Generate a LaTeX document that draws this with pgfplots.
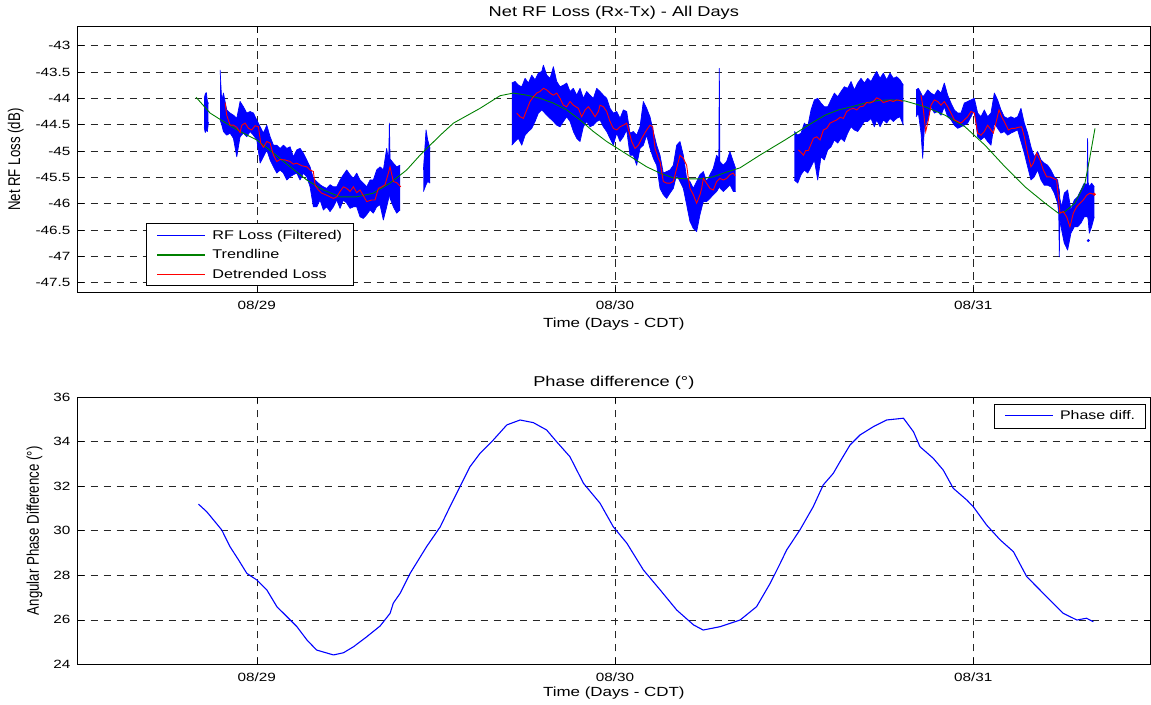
\documentclass[border=0pt]{standalone}
\usepackage{graphicx}
\usepackage{fontspec}
\setmainfont{Liberation Sans}[FakeStretch=1.28]
\newfontfamily\ylabfont{Liberation Sans}
\usepackage{pgfplots}
\usepackage{pgfplotstable}
\usepgfplotslibrary{fillbetween}
\pgfplotsset{compat=1.18}
\definecolor{mblue}{rgb}{0,0,1}
\definecolor{mgreen}{rgb}{0,0.5,0}
\definecolor{mred}{rgb}{1,0,0}
\newcommand{\legline}[1]{\tikz[baseline=0pt]\fill[fill=#1] (0bp,0.3em-0.7pt) rectangle (48bp,0.3em+0.7pt);}
\pgfplotsset{
  mstyle/.style={
    scale only axis, width=1072.3bp,
    xmin=28.5, xmax=31.4931,
    xtick={29,30,31}, xticklabels={08/29,08/30,08/31},
    grid=major,
    major grid style={black!85, line width=0.6pt, dash pattern=on 7.5bp off 5.5bp},
    tick align=inside, major tick length=6bp,
    tick style={black, line width=0.6pt},
    axis line style={black, line width=0.8pt},
    ticklabel style={font=\fontsize{12}{14}\selectfont},
    yticklabel style={inner sep=0pt, xshift=-7bp},
    xticklabel style={inner sep=0pt, yshift=-8bp},
    title style={at={(axis description cs:0.5,1)}, anchor=base, font=\fontsize{14.3}{16}\selectfont},
    xlabel style={at={(axis description cs:0.5,0)}, anchor=base, font=\fontsize{13.3}{15}\selectfont},
    ylabel style={anchor=base, font=\ylabfont\fontsize{13.3}{15}\selectfont},
  },
  bedge/.style={draw=mblue, line width=0.7pt, line join=round, forget plot},
  bfill/.style={fill=mblue, draw=none, forget plot},
}
% RF loss (filtered): x = day of August, top/bottom of the noise band (dB)
\pgfplotstableread{
x top bot
28.853 -44.00 -44.55
28.856 -43.92 -44.65
28.859 -43.89 -44.60
28.862 -44.05 -44.63
28.865 -44.10 -44.45
}\segA
\pgfplotstableread{
x top bot
28.8975 -43.46 -44.41
28.9020 -44.05 -44.50
28.9068 -43.90 -44.63
28.916 -44.22 -44.70
28.9254 -44.28 -44.66
28.9347 -44.32 -44.76
28.944 -44.38 -45.11
28.9533 -44.06 -44.73
28.9626 -44.16 -44.66
28.972 -44.28 -44.73
28.9812 -44.25 -44.63
28.9905 -44.28 -44.70
28.9999 -44.41 -44.79
29.0092 -44.54 -45.23
29.0185 -44.66 -45.11
29.0278 -44.51 -44.98
29.0371 -44.73 -45.17
29.0464 -44.89 -45.30
29.0557 -44.89 -45.42
29.065 -44.95 -45.36
29.0743 -44.89 -45.42
29.0836 -44.95 -45.55
29.0929 -44.92 -45.49
29.1021 -45.11 -45.45
29.1114 -44.98 -45.42
29.1207 -44.95 -45.55
29.13 -45.04 -45.42
29.1393 -45.17 -45.49
29.1486 -45.30 -45.68
29.1579 -45.52 -46.06
29.1672 -45.58 -46.06
29.1765 -45.64 -45.93
29.1858 -45.68 -46.12
29.1951 -45.71 -46.06
29.2044 -45.64 -46.15
29.2137 -45.68 -46.06
29.223 -45.68 -45.93
29.2323 -45.55 -46.09
29.2416 -45.45 -45.93
29.2509 -45.36 -45.99
29.2602 -45.45 -46.09
29.2695 -45.52 -46.06
29.2788 -45.42 -46.06
29.2881 -45.55 -46.25
29.2974 -45.61 -46.28
29.3067 -45.68 -46.21
29.316 -45.55 -46.12
29.3253 -45.55 -46.18
29.3346 -45.36 -46.06
29.3439 -45.30 -46.02
29.3532 -45.36 -46.31
29.3625 -44.95 -46.06
29.3680 -45.20 -45.90
29.3700 -44.47 -45.80
29.3720 -45.15 -45.90
29.3811 -45.23 -46.06
29.3904 -45.30 -46.18
29.3997 -45.27 -46.12
}\segB
\pgfplotstableread{
x top bot
29.465 -45.36 -45.77
29.4724 -44.60 -45.64
29.477 -44.79 -45.58
29.4836 -44.95 -45.61
}\segC
\pgfplotstableread{
x top bot
29.7116 -43.71 -44.89
29.7209 -43.68 -44.82
29.7302 -43.75 -44.76
29.7395 -43.78 -44.89
29.7488 -43.62 -44.70
29.7581 -43.71 -44.63
29.7674 -43.56 -44.57
29.7767 -43.65 -44.44
29.786 -43.52 -44.28
29.7953 -43.49 -44.22
29.7999 -43.37 -44.25
29.8092 -43.56 -44.32
29.8185 -43.62 -44.38
29.8278 -43.40 -44.44
29.8371 -43.68 -44.51
29.8464 -43.78 -44.54
29.8557 -43.75 -44.44
29.865 -43.71 -44.35
29.8743 -43.87 -44.44
29.8836 -43.81 -44.63
29.8929 -43.94 -44.76
29.9022 -43.81 -44.82
29.9115 -44.00 -44.54
29.9208 -43.87 -44.44
29.9301 -43.94 -44.54
29.9394 -44.00 -44.51
29.9487 -43.81 -44.44
29.958 -43.87 -44.41
29.9673 -43.94 -44.54
29.9766 -44.00 -44.63
29.9859 -44.19 -44.76
29.9952 -44.28 -44.89
30.0045 -44.25 -44.66
30.0138 -44.38 -44.82
30.0231 -44.22 -44.73
30.0324 -44.25 -44.60
30.0417 -44.66 -45.08
30.051 -44.63 -45.08
30.0603 -44.70 -45.27
30.0696 -44.54 -44.95
30.0789 -44.06 -44.89
30.0882 -44.19 -44.70
30.0975 -44.35 -44.95
30.1068 -44.63 -45.14
30.1161 -44.89 -45.27
30.1254 -45.08 -45.71
30.1347 -45.42 -45.83
30.144 -45.39 -45.90
30.1533 -45.36 -45.80
30.1626 -45.27 -45.71
30.1719 -44.89 -45.45
30.1812 -44.82 -45.58
30.1905 -45.08 -45.71
30.1998 -45.52 -46.02
30.2091 -45.58 -46.34
30.2184 -45.71 -46.47
30.2277 -45.58 -46.53
30.237 -45.45 -46.21
30.2463 -45.39 -45.96
30.2556 -45.58 -45.96
30.2649 -45.45 -45.90
30.2742 -45.33 -45.83
30.2835 -45.08 -45.77
30.2895 -45.15 -45.70
30.2910 -43.43 -45.58
30.2925 -45.20 -45.70
30.3021 -45.27 -45.77
30.3114 -45.20 -45.71
30.3207 -45.01 -45.64
30.33 -45.20 -45.77
30.3365 -45.33 -45.77
}\segD
\pgfplotstableread{
x top bot
30.5005 -44.63 -45.55
30.5098 -44.70 -45.61
30.5191 -44.66 -45.45
30.5284 -44.47 -45.36
30.5377 -44.54 -45.42
30.547 -44.22 -45.30
30.5563 -44.03 -45.17
30.5656 -44.00 -45.55
30.5749 -44.09 -45.11
30.5842 -44.16 -45.17
30.5935 -44.16 -44.98
30.6028 -44.03 -44.92
30.6121 -43.90 -44.79
30.6214 -43.97 -44.85
30.6307 -43.87 -44.76
30.64 -43.78 -44.82
30.6493 -43.81 -44.66
30.6586 -43.68 -44.54
30.6679 -43.84 -44.60
30.6772 -43.71 -44.63
30.6865 -43.62 -44.54
30.6958 -43.71 -44.44
30.7051 -43.62 -44.44
30.7144 -43.68 -44.38
30.7237 -43.56 -44.54
30.7303 -43.49 -44.41
30.7396 -43.62 -44.54
30.7489 -43.52 -44.41
30.7582 -43.65 -44.47
30.7675 -43.52 -44.38
30.7768 -43.62 -44.44
30.7861 -43.59 -44.38
30.7954 -43.65 -44.35
30.8047 -43.75 -44.51
}\segE
\pgfplotstableread{
x top bot
30.8401 -43.84 -44.35
30.8466 -43.81 -44.28
30.854 -43.90 -44.66
30.8587 -43.97 -45.14
30.8633 -43.94 -44.57
30.8726 -43.84 -44.41
30.8819 -43.90 -44.16
30.8912 -43.94 -44.28
30.9005 -43.84 -44.25
30.9098 -43.90 -44.32
30.9191 -43.71 -44.16
30.9284 -43.94 -44.35
30.9377 -44.09 -44.41
30.947 -44.22 -44.51
30.9563 -44.28 -44.57
30.9656 -44.28 -44.54
30.9749 -44.09 -44.51
30.9842 -44.06 -44.47
30.9935 -44.03 -44.35
31.0028 -44.00 -44.22
31.0121 -44.28 -44.73
31.0214 -44.35 -44.79
31.0307 -44.22 -44.73
31.04 -44.35 -44.82
31.0493 -44.28 -44.89
31.0586 -43.90 -44.47
31.0679 -44.03 -44.57
31.0772 -44.22 -44.66
31.0865 -44.35 -44.63
31.0958 -44.38 -44.70
31.1051 -44.35 -44.66
31.1144 -44.38 -44.63
31.1237 -44.35 -44.60
31.133 -44.19 -44.82
31.1423 -44.47 -45.04
31.1516 -44.66 -45.30
31.1609 -44.92 -45.55
31.1702 -45.11 -45.49
31.1795 -45.01 -45.36
31.1888 -45.17 -45.55
31.1981 -45.23 -45.65
31.2074 -45.27 -45.65
31.2167 -45.36 -45.68
31.226 -45.49 -45.80
31.2353 -45.55 -45.99
31.2385 -45.70 -46.20
31.2400 -45.74 -47.01
31.2415 -45.90 -46.30
31.2465 -46.06 -46.50
31.2539 -45.80 -46.75
31.2632 -45.74 -46.88
31.2725 -46.12 -46.56
31.2818 -45.93 -46.44
31.2911 -45.87 -46.44
31.3004 -45.74 -46.37
31.3097 -45.61 -46.25
31.3175 -45.65 -46.25
31.3190 -44.76 -46.25
31.3205 -45.60 -46.30
31.3237 -45.68 -46.56
31.3302 -45.61 -46.44
31.3376 -45.68 -46.25
}\segF
\begin{document}
\begin{tikzpicture}
\begin{axis}[mstyle, at={(77.7bp,412.3bp)}, anchor=south west, height=266bp,
  ymin=-47.69, ymax=-42.64,
  ytick={-47.5,-47,-46.5,-46,-45.5,-45,-44.5,-44,-43.5,-43},
  yticklabels={-47.5,-47,-46.5,-46,-45.5,-45,-44.5,-44,-43.5,-43},
  title={Net RF Loss (Rx-Tx) - All Days}, title style={yshift=4bp},
  xlabel={Time (Days - CDT)}, xlabel style={yshift=-35bp},
  ylabel={\scalebox{1}[1.28]{Net RF Loss (dB)}},
  ylabel style={at={(axis description cs:-0.0538,0.5)}},
]
% RF loss band segments
\addplot[bedge, name path=tA] table[x=x, y=top] {\segA};
\addplot[bedge, name path=bA] table[x=x, y=bot] {\segA};
\addplot[bfill] fill between[of=tA and bA];
\addplot[bedge, name path=tB] table[x=x, y=top] {\segB};
\addplot[bedge, name path=bB] table[x=x, y=bot] {\segB};
\addplot[bfill] fill between[of=tB and bB];
\addplot[bedge, name path=tC] table[x=x, y=top] {\segC};
\addplot[bedge, name path=bC] table[x=x, y=bot] {\segC};
\addplot[bfill] fill between[of=tC and bC];
\addplot[bedge, name path=tD] table[x=x, y=top] {\segD};
\addplot[bedge, name path=bD] table[x=x, y=bot] {\segD};
\addplot[bfill] fill between[of=tD and bD];
\addplot[bedge, name path=tE] table[x=x, y=top] {\segE};
\addplot[bedge, name path=bE] table[x=x, y=bot] {\segE};
\addplot[bfill] fill between[of=tE and bE];
\addplot[bedge, name path=tF] table[x=x, y=top] {\segF};
\addplot[bedge, name path=bF] table[x=x, y=bot] {\segF};
\addplot[bfill] fill between[of=tF and bF];
\addplot[only marks, mark=*, mark size=1.3bp, draw=mblue, fill=mblue, forget plot] coordinates {(31.3209,-46.70)};
% Trendline
\addplot[draw=mgreen, line width=0.9pt, forget plot] coordinates {
(28.8305,-43.98) (28.8696,-44.28) (28.9068,-44.44) (28.9533,-44.63) (28.9999,-44.79) (29.0464,-45.04)
(29.0929,-45.30) (29.1393,-45.55) (29.1858,-45.74) (29.2323,-45.87) (29.2788,-45.87) (29.3253,-45.80)
(29.3718,-45.61) (29.4183,-45.36) (29.4555,-45.08) (29.512,-44.70) (29.549,-44.47) (29.623,-44.19)
(29.679,-43.95) (29.7162,-43.90) (29.7534,-43.94) (29.7906,-44.00) (29.8278,-44.09) (29.865,-44.22)
(29.9022,-44.41) (29.9394,-44.63) (29.9766,-44.82) (30.0138,-44.98) (30.051,-45.14) (30.0882,-45.30)
(30.1254,-45.42) (30.1626,-45.51) (30.1998,-45.53) (30.237,-45.53) (30.2742,-45.49) (30.3114,-45.40)
(30.3486,-45.32) (30.405,-45.075) (30.4745,-44.79) (30.5117,-44.63) (30.5489,-44.47) (30.5861,-44.32)
(30.6233,-44.22) (30.6605,-44.16) (30.6977,-44.09) (30.7349,-44.04) (30.7721,-44.03) (30.8093,-44.05)
(30.8652,-44.16) (30.921,-44.32) (30.9768,-44.54) (31.0326,-44.89) (31.0884,-45.30) (31.1442,-45.68)
(31.2,-45.99) (31.2372,-46.18) (31.2558,-46.15) (31.2837,-45.99) (31.3116,-45.61) (31.3256,-45.11)
(31.3396,-44.57)
};
% Detrended loss
\addplot[draw=mred, line width=0.9pt, forget plot] coordinates {
(28.9115,-44.08) (28.916,-44.32) (28.9254,-44.51) (28.9347,-44.51) (28.944,-44.55) (28.9533,-44.65)
(28.958,-44.51) (28.9673,-44.47) (28.9766,-44.57) (28.9859,-44.60) (28.9952,-44.52) (29.0045,-44.54)
(29.011,-44.85) (29.0185,-44.93) (29.0278,-44.82) (29.0371,-44.85) (29.0464,-45.08) (29.0557,-45.20)
(29.065,-45.16) (29.079,-45.17) (29.0929,-45.20) (29.1021,-45.25) (29.1114,-45.23) (29.1254,-45.28)
(29.1393,-45.30) (29.1486,-45.36) (29.1579,-45.39) (29.1626,-45.65) (29.1719,-45.74) (29.1812,-45.80)
(29.1951,-45.84) (29.2044,-45.87) (29.2137,-45.90) (29.223,-45.87) (29.2323,-45.77) (29.2416,-45.68)
(29.2509,-45.71) (29.2602,-45.77) (29.2695,-45.68) (29.2788,-45.79) (29.2881,-45.74) (29.3067,-45.96)
(29.3207,-45.93) (29.33,-45.93) (29.3393,-45.71) (29.3486,-45.68) (29.3579,-45.64) (29.3672,-45.42)
(29.3718,-45.30) (29.3811,-45.58) (29.3904,-45.60) (29.4016,-45.68)
};
\addplot[draw=mred, line width=0.9pt, forget plot] coordinates {
(29.7255,-44.28) (29.7348,-44.35) (29.7441,-44.38) (29.7534,-44.22) (29.7627,-44.06) (29.772,-43.97)
(29.7813,-43.90) (29.7906,-43.87) (29.7999,-43.81) (29.8092,-43.84) (29.8185,-43.90) (29.8278,-43.94)
(29.8371,-43.90) (29.8464,-44.00) (29.8557,-44.13) (29.865,-44.16) (29.8743,-44.06) (29.8836,-44.13)
(29.8976,-44.19) (29.9069,-44.35) (29.9162,-44.22) (29.9255,-44.16) (29.9348,-44.25) (29.9441,-44.35)
(29.9534,-44.25) (29.958,-44.13) (29.9673,-44.16) (29.9766,-44.25) (29.9859,-44.44) (29.9952,-44.57)
(30.0045,-44.60) (30.0138,-44.54) (30.0231,-44.51) (30.0324,-44.47) (30.0464,-44.82) (30.0557,-44.95)
(30.065,-44.89) (30.0743,-44.76) (30.0882,-44.60) (30.0975,-44.51) (30.105,-44.54) (30.1115,-44.95)
(30.1208,-45.14) (30.1254,-45.20) (30.1347,-45.58) (30.144,-45.61) (30.1533,-45.61) (30.1626,-45.58)
(30.1812,-45.08) (30.1905,-45.14) (30.1998,-45.27) (30.2045,-45.52) (30.2091,-45.71) (30.2184,-45.83)
(30.2277,-45.99) (30.237,-45.83) (30.2417,-45.71) (30.2463,-45.52) (30.2649,-45.71) (30.2742,-45.74)
(30.2835,-45.58) (30.2928,-45.52) (30.3021,-45.55) (30.3114,-45.52) (30.3207,-45.45) (30.33,-45.42)
(30.3347,-45.47)
};
\addplot[draw=mred, line width=0.9pt, forget plot] coordinates {
(30.5117,-44.98) (30.521,-45.04) (30.5257,-45.08) (30.5322,-44.99) (30.5396,-44.99) (30.5536,-44.76)
(30.5629,-44.73) (30.5722,-44.79) (30.5815,-44.60) (30.5908,-44.57) (30.6001,-44.47) (30.6094,-44.44)
(30.6187,-44.41) (30.628,-44.36) (30.6373,-44.38) (30.6466,-44.25) (30.6559,-44.21) (30.6652,-44.19)
(30.6745,-44.22) (30.6838,-44.16) (30.6931,-44.15) (30.7024,-44.08) (30.7117,-44.09) (30.721,-44.06)
(30.7303,-43.99) (30.7396,-44.02) (30.7489,-44.08) (30.7582,-44.06) (30.7675,-44.04) (30.7768,-44.06)
(30.7861,-44.03) (30.7954,-44.04) (30.802,-44.06)
};
\addplot[draw=mred, line width=0.9pt, forget plot] coordinates {
(30.854,-43.94) (30.8606,-44.22) (30.8671,-44.63) (30.8745,-44.41) (30.8819,-44.13) (30.8912,-44.03)
(30.9005,-44.06) (30.9098,-44.13) (30.9191,-44.06) (30.9284,-44.16) (30.9377,-44.28) (30.947,-44.41)
(30.9563,-44.44) (30.9656,-44.47) (30.9749,-44.41) (30.9842,-44.35) (30.9935,-44.25) (31.0028,-44.28)
(31.0121,-44.66) (31.0214,-44.70) (31.0307,-44.63) (31.04,-44.51) (31.0493,-44.60) (31.0558,-44.66)
(31.0651,-44.41) (31.0717,-44.22) (31.0791,-44.35) (31.0884,-44.47) (31.0977,-44.60) (31.107,-44.57)
(31.1163,-44.57) (31.1256,-44.55) (31.1349,-44.54) (31.1423,-44.73) (31.1516,-45.04) (31.1609,-45.30)
(31.1675,-45.23) (31.1768,-45.04) (31.1861,-45.17) (31.1954,-45.36) (31.2047,-45.49) (31.214,-45.49)
(31.2233,-45.52) (31.2326,-45.55) (31.2372,-45.87) (31.2419,-46.18) (31.2512,-46.15) (31.2605,-46.25)
(31.2698,-46.44) (31.2791,-46.18) (31.2884,-46.06) (31.2977,-45.99) (31.307,-45.93) (31.3163,-45.84)
(31.3256,-45.80) (31.3349,-45.82)
};
\addplot[only marks, mark=*, mark size=1.3bp, draw=mred, fill=mred, forget plot] coordinates {(31.3376,-45.82)};
% legend
\node[anchor=south west, draw=black, line width=0.8pt, fill=white, inner xsep=11bp, inner ysep=1.75bp,
  font=\fontsize{12.7}{19.5}\selectfont] at (axis description cs:0.0637,0.025) {%
  \begin{tabular}{@{}l@{\hspace{7bp}}l@{}}
  \legline{mblue} & RF Loss (Filtered)\\
  \legline{mgreen} & Trendline\\
  \legline{mred} & Detrended Loss
  \end{tabular}};
\end{axis}

\begin{axis}[mstyle, at={(77.7bp,40.7bp)}, anchor=south west, height=267bp,
  ymin=24, ymax=36,
  ytick={24,26,28,30,32,34,36},
  yticklabels={24,26,28,30,32,34,36},
  title={Phase difference (°)}, title style={yshift=5bp},
  xlabel={Time (Days - CDT)}, xlabel style={yshift=-32bp},
  ylabel={\scalebox{1}[1.28]{Angular Phase Difference (°)}},
  ylabel style={at={(axis description cs:-0.0361,0.5)}},
]
\addplot[draw=mblue, line width=1.1pt, line join=round, forget plot] coordinates {
(28.837,31.20) (28.860,30.86) (28.879,30.49) (28.902,30.04) (28.925,29.29) (28.949,28.69)
(28.972,28.09) (29.0,27.79) (29.028,27.34) (29.056,26.59) (29.084,26.14) (29.112,25.69)
(29.14,25.09) (29.167,24.64) (29.214,24.42) (29.242,24.52) (29.27,24.79) (29.307,25.24)
(29.344,25.72) (29.372,26.29) (29.381,26.75) (29.40,27.19) (29.428,28.09) (29.474,29.29)
(29.512,30.18) (29.539,31.08) (29.567,31.98) (29.595,32.88) (29.623,33.48) (29.66,34.08)
(29.698,34.76) (29.735,34.98) (29.772,34.86) (29.809,34.53) (29.837,34.00) (29.874,33.33)
(29.912,32.13) (29.958,31.24) (29.995,30.18) (30.033,29.44) (30.079,28.24) (30.126,27.34)
(30.172,26.44) (30.219,25.77) (30.246,25.54) (30.293,25.69) (30.349,25.99) (30.395,26.59)
(30.433,27.64) (30.461,28.54) (30.479,29.14) (30.516,30.04) (30.553,31.08) (30.581,32.06)
(30.609,32.58) (30.628,33.11) (30.656,33.86) (30.684,34.31) (30.721,34.68) (30.758,34.98)
(30.805,35.06) (30.833,34.45) (30.851,33.78) (30.888,33.26) (30.916,32.73) (30.944,31.91)
(30.982,31.38) (31.0,31.08) (31.037,30.26) (31.075,29.59) (31.112,29.06) (31.149,27.94)
(31.186,27.34) (31.223,26.74) (31.251,26.29) (31.289,25.99) (31.316,26.07) (31.335,25.91)
};
% legend
\node[anchor=north east, draw=black, line width=0.8pt, fill=white, inner xsep=10.5bp, inner ysep=4.5bp,
  font=\fontsize{12.5}{15}\selectfont] at (axis description cs:0.9963,0.9749) {%
  \begin{tabular}{@{}l@{\hspace{7bp}}l@{}}
  \legline{mblue} & Phase diff.
  \end{tabular}};
\end{axis}
\pgfresetboundingbox
\useasboundingbox (0bp,0bp) rectangle (1151bp,705bp);
\end{tikzpicture}
\end{document}
